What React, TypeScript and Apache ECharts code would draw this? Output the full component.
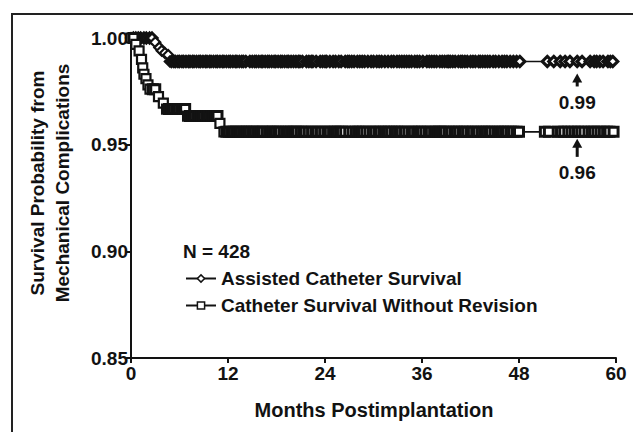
import React, { useEffect, useRef } from "react";
import * as echarts from "echarts";

// Kaplan–Meier steps
const assistedEventMonths = [3.0, 3.5, 3.8, 4.2, 4.6, 4.8];
const assistedEventSurvival = [0.998, 0.9955, 0.994, 0.993, 0.992, 0.989];
const assistedCensorMonths = [
  0.3, 0.6, 0.9, 1.2, 1.6, 1.9, 2.3, 2.6,
  5.0, 5.3, 5.5, 5.8, 6.0, 6.3, 6.5, 6.8, 7.1, 7.3, 7.6, 7.8, 8.1, 8.4, 8.6, 8.9, 9.2,
  9.4, 9.7, 9.9, 10.2, 10.5, 10.7, 11.0, 11.3, 11.5, 11.8, 12.1, 12.3, 12.6, 12.9, 13.1,
  13.4, 13.7, 13.9, 14.2, 14.7, 15.0, 15.3, 15.5, 15.8, 16.1, 16.3, 16.6, 16.9, 17.1,
  17.4, 17.7, 17.9, 18.2, 18.5, 18.7, 19.0, 19.3, 19.5, 19.8, 20.1, 20.4, 20.7, 20.9,
  21.2, 21.7, 22.0, 22.3, 22.5, 22.9, 23.4, 23.7, 24.0, 24.2, 24.6, 25.0, 25.3, 25.7,
  26.0, 26.5, 26.8, 27.0, 27.3, 27.6, 28.0, 28.3, 28.6, 28.9, 29.3, 29.7, 30.0, 30.4,
  30.7, 31.0, 31.4, 31.8, 32.2, 32.5, 32.9, 33.2, 33.5, 33.8, 34.1, 34.4, 34.7, 35.1,
  35.4, 35.7, 36.1, 36.6, 36.9, 37.2, 37.5, 37.8, 38.2, 38.5, 38.8, 39.1, 39.3, 39.5,
  39.8, 40.1, 40.5, 40.8, 41.0, 41.3, 41.6, 42.0, 42.3, 42.6, 43.0, 43.2, 43.5, 43.8,
  44.1, 44.4, 44.8, 45.1, 45.5, 45.9, 46.2, 46.5, 46.9, 47.3, 47.7, 48.1,
  51.5, 52.3, 53.1, 53.7, 54.3, 55.2, 55.8, 56.8, 57.3, 57.6, 58.0, 58.4, 59.0, 59.3, 59.6,
];

const revisionEventMonths = [0.6, 1.0, 1.3, 1.45, 1.6, 1.85, 2.1, 2.35, 3.4, 4.0, 4.4, 7.0, 11.0, 11.5];
const revisionEventSurvival = [0.997, 0.994, 0.99, 0.986, 0.983, 0.981, 0.978, 0.976, 0.9725, 0.9695, 0.9667, 0.9634, 0.960, 0.956];
const revisionCensorMonths = [
  0.3, 2.7, 3.0, 4.7, 5.0, 5.3, 5.6, 5.9, 6.2, 6.5, 6.7, 7.3, 7.6, 7.9, 8.2, 8.5, 8.7,
  9.0, 9.3, 9.6, 9.9, 10.2, 10.5, 10.7,
  11.8, 12.1, 12.4, 12.7, 13.0, 13.3, 13.6, 13.9, 14.2, 14.4, 14.7, 15.0, 15.3, 15.6,
  15.9, 16.2, 16.4, 16.8, 17.1, 17.4, 17.6, 17.9, 18.2, 18.5, 18.9, 19.2, 19.5, 19.8,
  20.1, 20.4, 20.6, 21.0, 21.3, 21.6, 22.0, 22.4, 22.8, 23.1, 23.5, 23.9, 24.3, 24.6,
  25.0, 25.3, 25.6, 25.9, 26.1, 26.5, 27.0, 27.4, 27.8, 28.1, 28.4, 28.7, 29.1, 29.5,
  29.9, 30.2, 30.6, 30.9, 31.3, 31.6, 31.9, 32.2, 32.6, 32.9, 33.2, 33.5, 33.9, 34.3,
  34.7, 35.0, 35.4, 35.7, 36.0, 36.4, 36.8, 37.1, 37.5, 37.8, 38.1, 38.3, 38.6, 38.9,
  39.3, 39.6, 40.0, 40.3, 40.6, 41.0, 41.3, 41.6, 42.0, 42.3, 42.7, 43.0, 43.4, 43.7,
  44.0, 44.3, 44.6, 45.0, 45.4, 45.7, 46.0, 46.3, 46.6, 47.0, 47.3, 47.7, 48.0,
  51.2, 51.7, 52.8, 53.2, 53.6, 54.1, 54.5, 54.9, 55.3, 55.7, 56.1, 56.6, 57.0, 57.3,
  57.7, 58.1, 58.5, 58.9, 59.2, 59.7,
];

const xTicks = { min: 0, max: 60, interval: 12 };
const yTicks = { min: 0.85, max: 1.0, interval: 0.05 };

const seriesNames = ["Assisted Catheter Survival", "Catheter Survival Without Revision"];
const sampleLabel = "N = 428";
const arrowLabels = ["0.99", "0.96"];
const arrowMonth = 55.2;
const axisNameX = "Months Postimplantation";
const axisNameY = ["Survival Probability from", "Mechanical Complications"];

const FONT = "Liberation Sans, Arial, Helvetica, sans-serif";
const INK = "#121212";

function survivalAt(t: number, ev: number[], sv: number[]) {
  let s = 1;
  for (let i = 0; i < ev.length; i++) if (ev[i] <= t) s = sv[i];
  return s;
}

function buildCurve(ev: number[], sv: number[], cens: number[], censorBorder: number) {
  const pts: { value: number[]; itemStyle?: any }[] = [{ value: [0, 1] }];
  ev.forEach((t, i) => pts.push({ value: [t, sv[i]] }));
  cens.forEach((t) =>
    pts.push({ value: [t, survivalAt(t, ev, sv)], itemStyle: { borderWidth: censorBorder } })
  );
  pts.sort((a, b) => a.value[0] - b.value[0] || b.value[1] - a.value[1]);
  return pts;
}

export default function App() {
  const ref = useRef<HTMLDivElement>(null);
  useEffect(() => {
    if (!ref.current) return;
    const chart = echarts.init(ref.current, null, { renderer: "svg" });
    const assisted = buildCurve(assistedEventMonths, assistedEventSurvival, assistedCensorMonths, 3.1);
    const revision = buildCurve(revisionEventMonths, revisionEventSurvival, revisionCensorMonths, 3.0);
    chart.setOption({
      animation: false,
      backgroundColor: "#fff",
      textStyle: { fontFamily: FONT },
      grid: { left: 131, right: 17, top: 38, bottom: 74 },
      xAxis: {
        type: "value",
        ...xTicks,
        axisLine: { lineStyle: { color: INK, width: 2 } },
        axisTick: { show: true, length: 5, lineStyle: { color: INK, width: 2 } },
        axisLabel: { color: INK, fontSize: 19, fontWeight: "bold", margin: 6, fontFamily: FONT },
        splitLine: { show: false },
      },
      yAxis: {
        type: "value",
        ...yTicks,
        axisLine: { show: true, lineStyle: { color: INK, width: 2 } },
        axisTick: { show: true, length: 5, lineStyle: { color: INK, width: 2 } },
        axisLabel: {
          color: INK, fontSize: 19, fontWeight: "bold", margin: 3, fontFamily: FONT,
          formatter: (v: number) => v.toFixed(2),
        },
        splitLine: { show: false },
      },
      legend: {
        data: seriesNames,
        orient: "vertical",
        left: 180,
        top: 263,
        itemWidth: 30,
        itemHeight: 9,
        itemGap: 6,
        itemStyle: { borderWidth: 1.5 },
        textStyle: { color: INK, fontSize: 19, fontWeight: "bold", fontFamily: FONT, lineHeight: 21 },
      },
      series: [
        {
          type: "line",
          name: seriesNames[0],
          data: assisted,
          step: "end",
          symbol: "diamond",
          symbolSize: 10,
          showAllSymbol: true,
          clip: false,
          lineStyle: { color: INK, width: 1.6 },
          itemStyle: { color: "#fff", borderColor: INK, borderWidth: 2.2 },
        },
        {
          type: "line",
          name: seriesNames[1],
          data: revision,
          step: "end",
          symbol: "rect",
          symbolSize: 9,
          showAllSymbol: true,
          clip: false,
          lineStyle: { color: INK, width: 1.6 },
          itemStyle: { color: "#fff", borderColor: INK, borderWidth: 2.2 },
        },
      ],
    });

    const [ax, ay0] = chart.convertToPixel({ gridIndex: 0 }, [arrowMonth, assistedEventSurvival[assistedEventSurvival.length - 1]]) as number[];
    const [, ay1] = chart.convertToPixel({ gridIndex: 0 }, [arrowMonth, revisionEventSurvival[revisionEventSurvival.length - 1]]) as number[];

    const arrow = (tipY: number, len: number, label: string) => [
      { type: "line", shape: { x1: ax, y1: tipY + 6, x2: ax, y2: tipY + len }, style: { stroke: INK, lineWidth: 3 } },
      { type: "polygon", shape: { points: [[ax, tipY], [ax - 5, tipY + 9], [ax + 5, tipY + 9]] }, style: { fill: INK } },
      {
        type: "text", x: ax, y: tipY + len + 16,
        style: { text: label, fill: INK, font: `bold 19px ${FONT}`, textAlign: "center", textVerticalAlign: "middle" },
      },
    ];

    chart.setOption({
      graphic: [
        { type: "rect", shape: { x: 12, y: 14, width: 700, height: 500 }, style: { fill: "none", stroke: "#222", lineWidth: 2 }, silent: true },
        {
          type: "text", left: 183, top: 242,
          style: { text: sampleLabel, fill: INK, font: `bold 19px ${FONT}` },
        },
        {
          type: "text", x: 37, y: 183, rotation: Math.PI / 2,
          style: { text: axisNameY[0], fill: INK, font: `bold 19px ${FONT}`, textAlign: "center", textVerticalAlign: "middle" },
        },
        {
          type: "text", x: 62, y: 183, rotation: Math.PI / 2,
          style: { text: axisNameY[1], fill: INK, font: `bold 19px ${FONT}`, textAlign: "center", textVerticalAlign: "middle" },
        },
        {
          type: "text", x: 374, y: 410,
          style: { text: axisNameX, fill: INK, font: `bold 20px ${FONT}`, textAlign: "center", textVerticalAlign: "middle" },
        },
        ...arrow(ay0 + 12, 13, arrowLabels[0]),
        ...arrow(ay1 + 7, 18, arrowLabels[1]),
      ],
    });
    return () => chart.dispose();
  }, []);
  return <div ref={ref} style={{ width: 633, height: 432, position: "absolute", left: 0, top: 0 }} />;
}
